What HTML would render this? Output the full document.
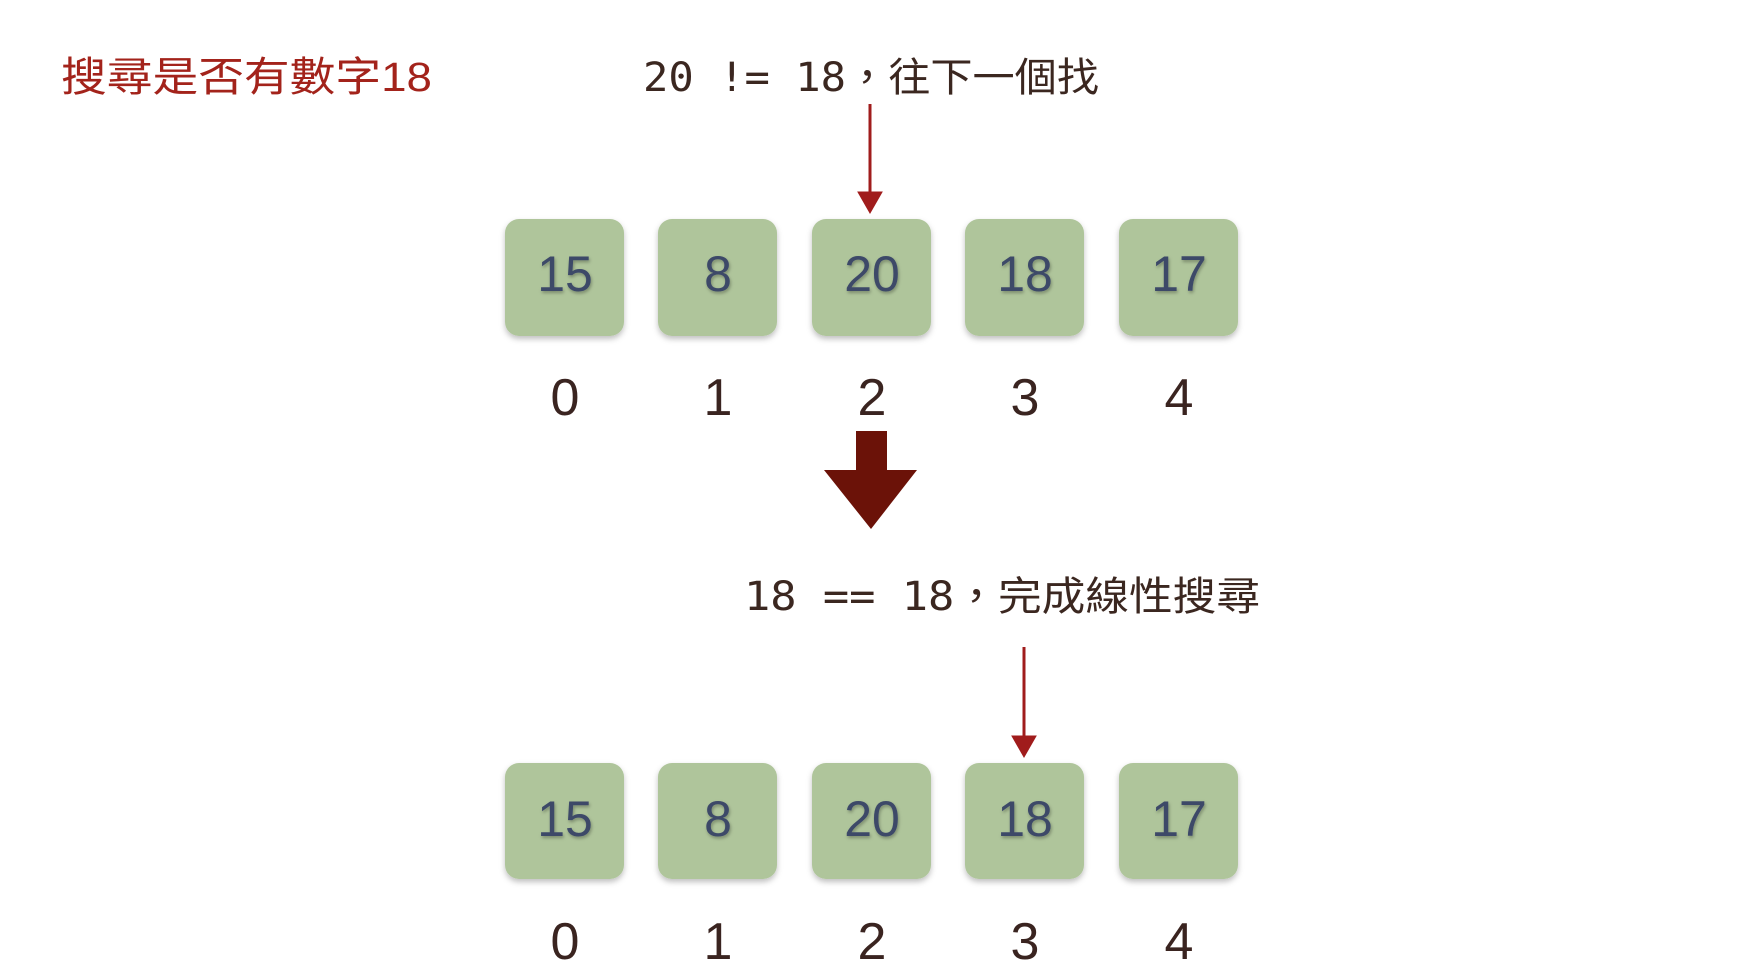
<!DOCTYPE html>
<html><head><meta charset="utf-8"><style>
html,body{margin:0;padding:0;background:#fff;}
svg{display:block;}
</style></head><body>
<svg width="1740" height="978" viewBox="0 0 1740 978" xmlns="http://www.w3.org/2000/svg">
<defs>
<filter id="sh" x="-10%" y="-10%" width="120%" height="130%"><feDropShadow dx="0" dy="3" stdDeviation="3" flood-color="#000" flood-opacity="0.25"/></filter>
<filter id="ts" x="-10%" y="-10%" width="130%" height="130%"><feDropShadow dx="1" dy="2" stdDeviation="1.5" flood-color="#000" flood-opacity="0.3"/></filter>
</defs>
<g transform="translate(-3,-2)">
<g font-family="'Liberation Sans','Noto Sans CJK TC',sans-serif">
<text x="64" y="93" font-size="41" fill="#a3231b" textLength="371" lengthAdjust="spacingAndGlyphs">搜尋是否有數字18</text>
<text x="646" y="93" font-size="40" fill="#3b2720" textLength="456" lengthAdjust="spacingAndGlyphs" font-family="'DejaVu Sans Mono','Noto Sans CJK TC',monospace">20 != 18，往下一個找</text>
<text x="747" y="612" font-size="40" fill="#3b2720" textLength="516" lengthAdjust="spacingAndGlyphs" font-family="'DejaVu Sans Mono','Noto Sans CJK TC',monospace">18 == 18，完成線性搜尋</text>
</g>
<g stroke="#a01c1c" fill="#a01c1c">
<line x1="873" y1="106" x2="873" y2="200" stroke-width="3"/>
<polygon points="861,194 885,194 873,215" stroke-width="1"/>
<line x1="1027" y1="649" x2="1027" y2="744" stroke-width="3"/>
<polygon points="1015,738 1039,738 1027,759" stroke-width="1"/>
</g>
<polygon points="859,433 890,433 890,472 920,472 874,531 827,472 859,472" fill="#6b1208"/>
<g font-family="'Liberation Sans',sans-serif">
<g fill="#afc59b" filter="url(#sh)">
<rect x="508" y="221" width="119" height="117" rx="14"/>
<rect x="661" y="221" width="119" height="117" rx="14"/>
<rect x="815" y="221" width="119" height="117" rx="14"/>
<rect x="968" y="221" width="119" height="117" rx="14"/>
<rect x="1122" y="221" width="119" height="117" rx="14"/>
<rect x="508" y="765" width="119" height="116" rx="14"/>
<rect x="661" y="765" width="119" height="116" rx="14"/>
<rect x="815" y="765" width="119" height="116" rx="14"/>
<rect x="968" y="765" width="119" height="116" rx="14"/>
<rect x="1122" y="765" width="119" height="116" rx="14"/>
</g>
<g fill="#3c4a68" font-size="50" text-anchor="middle" filter="url(#ts)">
<text x="568" y="293">15</text><text x="721" y="293">8</text><text x="875" y="293">20</text><text x="1028" y="293">18</text><text x="1182" y="293">17</text>
<text x="568" y="838">15</text><text x="721" y="838">8</text><text x="875" y="838">20</text><text x="1028" y="838">18</text><text x="1182" y="838">17</text>
</g>
<g fill="#3a2420" font-size="52" text-anchor="middle">
<text x="568" y="417">0</text><text x="721" y="417">1</text><text x="875" y="417">2</text><text x="1028" y="417">3</text><text x="1182" y="417">4</text>
<text x="568" y="961">0</text><text x="721" y="961">1</text><text x="875" y="961">2</text><text x="1028" y="961">3</text><text x="1182" y="961">4</text>
</g>
</g>
</g>
</svg>
</body></html>
